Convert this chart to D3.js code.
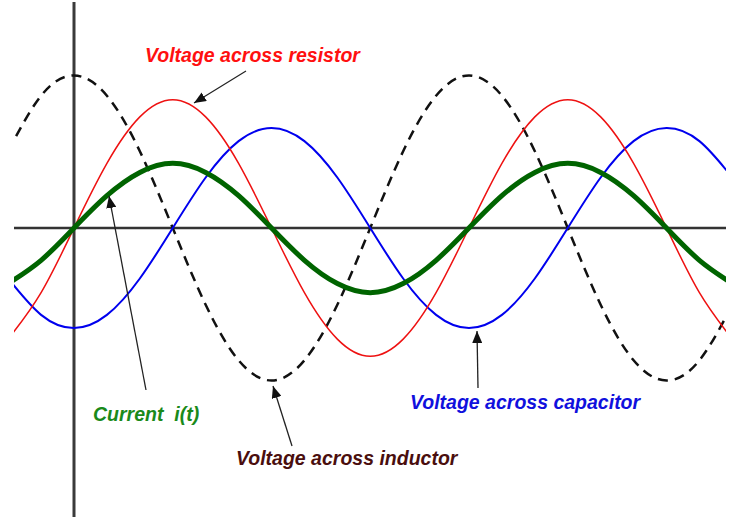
<!DOCTYPE html>
<html lang="en">
<head>
<meta charset="UTF-8">
<title>AC circuit voltages</title>
<style>
  body { margin: 0; background: #fff; }
  svg { display: block; }
  text { font-family: "Liberation Sans", Arial, sans-serif; font-weight: bold; font-style: italic; font-size: 19.5px; }
</style>
</head>
<body>
<div id="chart"></div>
<script src="https://d3js.org/d3.v7.min.js"></script>
<script>
// phase angle in degrees (one period = 360)
const angles = [-60, -30, 0, 30, 60, 90, 120, 150, 180, 210, 240, 270, 300, 330, 360, 390, 420, 450, 480, 510, 540, 570, 600];

// readings (relative units, axis = 0)
const resistor = [-1.10, -0.64, 0, 0.64, 1.10, 1.27, 1.10, 0.64, 0, -0.64, -1.10, -1.27, -1.10, -0.64, 0, 0.64, 1.10, 1.27, 1.10, 0.64, 0, -0.64, -1.10];
const current = [-0.55, -0.32, 0, 0.32, 0.55, 0.64, 0.55, 0.32, 0, -0.32, -0.55, -0.64, -0.55, -0.32, 0, 0.32, 0.55, 0.64, 0.55, 0.32, 0, -0.32, -0.55];
const capacitor = [-0.50, -0.86, -0.99, -0.86, -0.50, 0, 0.50, 0.86, 0.99, 0.86, 0.50, 0, -0.50, -0.86, -0.99, -0.86, -0.50, 0, 0.50, 0.86, 0.99, 0.86, 0.50];
const inductor = [0.76, 1.31, 1.51, 1.31, 0.76, 0, -0.76, -1.31, -1.51, -1.31, -0.76, 0, 0.76, 1.31, 1.51, 1.31, 0.76, 0, -0.76, -1.31, -1.51, -1.31, -0.76];

const labels = ["Voltage across resistor", "Current  i(t)", "Voltage across inductor", "Voltage across capacitor"];

const W = 735, H = 517;
const x = d3.scaleLinear().domain([0, 360]).range([74, 469]);
const y = d3.scaleLinear().domain([-1, 1]).range([329, 127]);
const left = 14, right = 726;

const svg = d3.select("#chart").append("svg")
    .attr("width", W)
    .attr("height", H);

svg.append("defs").append("clipPath").attr("id", "clip")
  .append("rect")
    .attr("x", left).attr("y", 0)
    .attr("width", right - left).attr("height", H);

svg.select("defs").append("marker")
    .attr("id", "arrow")
    .attr("viewBox", "0 0 12 10")
    .attr("refX", 12).attr("refY", 5)
    .attr("markerWidth", 12).attr("markerHeight", 10)
    .attr("markerUnits", "userSpaceOnUse")
    .attr("orient", "auto")
  .append("path")
    .attr("d", "M0,0 L12,5 L0,10 Z")
    .attr("fill", "#111");

// axes
svg.append("line")
    .attr("x1", left).attr("x2", right)
    .attr("y1", y(0)).attr("y2", y(0))
    .attr("stroke", "#333").attr("stroke-width", 2.5);
svg.append("line")
    .attr("x1", x(0)).attr("x2", x(0))
    .attr("y1", 2).attr("y2", H)
    .attr("stroke", "#3a3a3a").attr("stroke-width", 3);

const line = vals => d3.line()
    .x((d, i) => x(angles[i]))
    .y(d => y(d))
    .curve(d3.curveNatural)(vals);

const g = svg.append("g").attr("clip-path", "url(#clip)");

g.append("path").attr("d", line(inductor))
    .attr("fill", "none").attr("stroke", "#111").attr("stroke-width", 2.5)
    .attr("stroke-dasharray", "10,7");
g.append("path").attr("d", line(capacitor))
    .attr("fill", "none").attr("stroke", "#0000ee").attr("stroke-width", 2);
g.append("path").attr("d", line(resistor))
    .attr("fill", "none").attr("stroke", "#ee1111").attr("stroke-width", 1.5);
g.append("path").attr("d", line(current))
    .attr("fill", "none").attr("stroke", "#006400").attr("stroke-width", 5);

// annotation arrows
const arrows = [
  [246, 71, 194, 103],
  [146, 390, 109, 196],
  [292, 446, 273, 386],
  [478, 388, 477, 331]
];
svg.selectAll(".arrow").data(arrows).join("line")
    .attr("class", "arrow")
    .attr("x1", d => d[0]).attr("y1", d => d[1])
    .attr("x2", d => d[2]).attr("y2", d => d[3])
    .attr("stroke", "#222").attr("stroke-width", 1.3)
    .attr("marker-end", "url(#arrow)");

// labels
svg.append("text").attr("x", 145).attr("y", 62).attr("fill", "#ff1010").text(labels[0]);
svg.append("text").attr("x", 93).attr("y", 421).attr("fill", "#1a8a1a").text(labels[1]).style("white-space", "pre");
svg.append("text").attr("x", 236).attr("y", 465).attr("fill", "#4a0e0e").text(labels[2]);
svg.append("text").attr("x", 410).attr("y", 409).attr("fill", "#1010dd").text(labels[3]);
</script>
</body>
</html>
